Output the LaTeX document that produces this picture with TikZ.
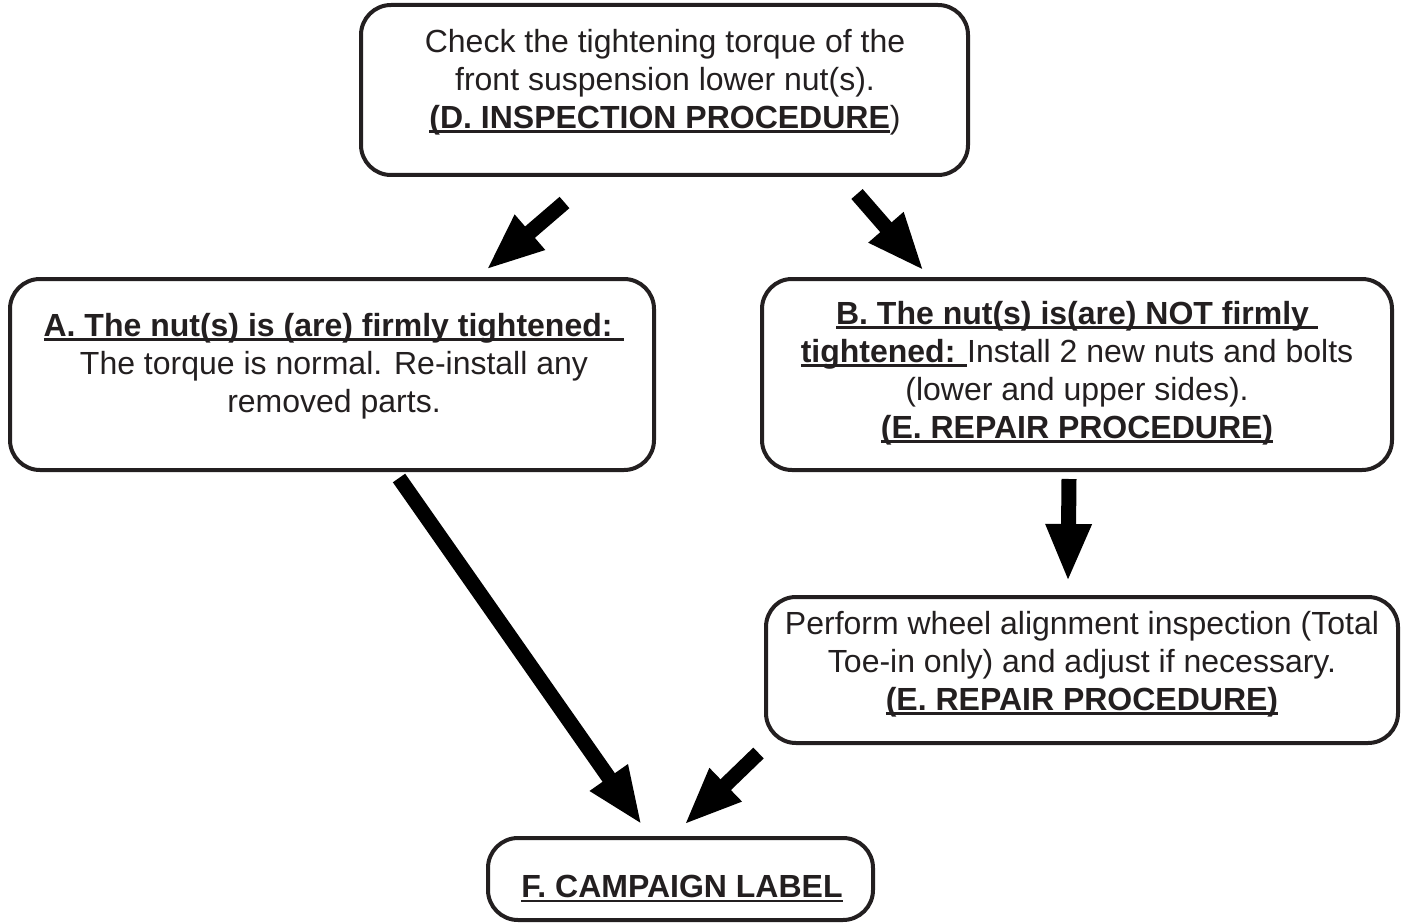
\documentclass[tikz,border=0pt]{standalone}
\usepackage{fontspec}
\setmainfont{Liberation Sans}
\usetikzlibrary{arrows.meta}
\definecolor{ink}{HTML}{231F20}
\newcommand{\myul}[1]{\setbox0\hbox{#1}\rlap{\rule[-4.5pt]{\wd0}{2.6pt}}\box0}
\tikzset{
  boxshape/.style={draw=ink, line width=4pt, rounded corners=30pt, inner sep=0pt},
  boxtext/.style={align=center, inner sep=0pt, text=ink, font=\fontsize{32}{38}\selectfont},
  blockarrow/.style={line width=15pt, -{Triangle[length=58pt,width=42pt]}}
}
\begin{document}
\begin{tikzpicture}[x=1pt,y=-1pt]
\useasboundingbox (0,0) rectangle (1406,923);
% boxes
\node[boxshape, minimum width=607pt, minimum height=170pt] (top) at (664.5,90) {};
\node[boxshape, minimum width=644pt, minimum height=191pt] (A) at (332,374.5) {};
\node[boxshape, minimum width=630pt, minimum height=191pt] (B) at (1077,374.5) {};
\node[boxshape, minimum width=632pt, minimum height=146pt] (C) at (1082,670) {};
\node[boxshape, minimum width=385pt, minimum height=82pt] (F) at (680.5,879) {};
% texts
\node[boxtext] (topT) at (665,82) {Check the tightening torque of the\\front suspension lower nut(s).\\\myul{\textbf{(D. INSPECTION PROCEDURE}})};
\node[boxtext] (AT) at (334,366) {\myul{\textbf{A. The nut(s) is (are) firmly tightened: }}\\The torque is normal. Re-install any\\removed parts.};
\node[boxtext] (BT) at (1077,373) {\myul{\textbf{B. The nut(s) is(are) NOT firmly }}\\\myul{\textbf{tightened: }}Install 2 new nuts and bolts\\(lower and upper sides).\\\myul{\textbf{(E. REPAIR PROCEDURE)}}};
\node[boxtext] (CT) at (1082,664) {Perform wheel alignment inspection (Total\\Toe-in only) and adjust if necessary.\\\myul{\textbf{(E. REPAIR PROCEDURE)}}};
\node[boxtext] (FT) at (682,889) {\myul{\textbf{F. CAMPAIGN LABEL}}};
% arrow end points
\coordinate (a1s) at (564.5,202.5);
\coordinate (a1e) at (486,270);
\coordinate (a2s) at (857,194);
\coordinate (a2e) at (924,271);
\coordinate (a3s) at (399,478);
\coordinate (a3e) at (642,825);
\coordinate (a4s) at (758.5,753);
\coordinate (a4e) at (684,825);
\coordinate (a5s) at (1069,479);
\coordinate (a5e) at (1068,582);
\draw[blockarrow] (a1s) -- (a1e);
\draw[blockarrow] (a2s) -- (a2e);
\draw[blockarrow] (a3s) -- (a3e);
\draw[blockarrow] (a4s) -- (a4e);
\draw[blockarrow] (a5s) -- (a5e);
\end{tikzpicture}
\end{document}
